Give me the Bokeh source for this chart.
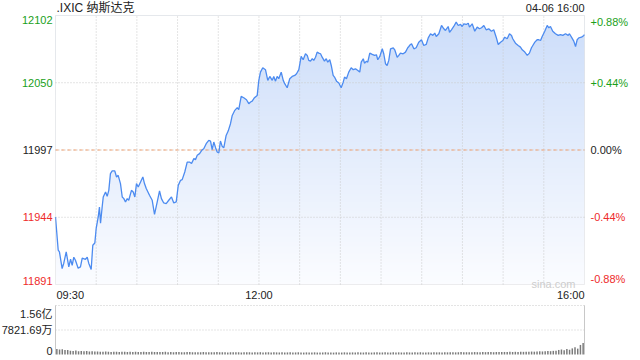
import numpy as np
from bokeh.plotting import figure
from bokeh.models import Range1d, Label, BoxAnnotation
from bokeh.embed import file_html
from bokeh.resources import INLINE

# ---------------- data ----------------
title_text = ".IXIC 纳斯达克"
stamp_text = "04-06 16:00"
prev_close = 11996.86

# minutes since 09:30 and index level
minutes = [
    0, 2.0, 2.9, 4.9, 6.1, 7.9, 9.8, 11.1, 12.3, 13.5,
    14.7, 16.7, 18.4, 19.7, 22.1, 23.4, 24.5, 26.3, 27.5, 29.0,
    30.0, 31.5, 32.4, 33.2, 34.4, 35.2, 36.9, 38.1, 39.3, 40.5,
    41.8, 43.7, 45.0, 46.2, 47.9, 49.2, 50.4, 51.6, 52.9, 54.0,
    56.0, 57.3, 58.5, 59.7, 61.0, 62.7, 64.4, 65.6, 66.9, 69.3,
    71.3, 73.0, 75.0, 76.7, 78.1, 79.8, 81.6, 83.5, 85.5, 87.2,
    89.0, 90.5, 92.2, 93.4, 95.3, 97.1, 98.8, 100.3, 102.0, 103.2,
    104.5, 106.2, 108.2, 109.3, 111.1, 113.0, 114.3, 115.5, 116.7, 118.0,
    119.2, 120.4, 121.6, 122.9, 124.1, 125.8, 127.3, 129.0, 130.3, 132.2,
    134.0, 135.1, 136.9, 138.8, 140.8, 142.5, 143.8, 145.0, 146.7, 148.7,
    149.9, 151.1, 152.8, 154.8, 156.5, 158.0, 159.8, 160.9, 162.2, 163.4,
    164.6, 166.4, 167.9, 169.0, 170.8, 172.7, 174.5, 176.4, 177.7, 179.4,
    181.1, 182.6, 184.3, 185.6, 186.7, 188.0, 189.3, 190.4, 191.7, 192.9,
    194.1, 195.4, 196.6, 198.3, 199.6, 200.7, 202.2, 203.3, 204.7, 205.7,
    207.2, 208.9, 210.6, 212.1, 213.1, 214.5, 216.2, 218.0, 219.5, 221.2,
    222.9, 224.3, 225.4, 226.9, 227.8, 229.3, 230.2, 231.7, 233.5, 235.2,
    236.6, 237.6, 239.1, 240.9, 242.0, 243.3, 244.5, 245.7, 247.0, 249.0,
    250.1, 251.9, 253.1, 254.3, 256.3, 258.0, 259.7, 260.5, 261.7, 262.5,
    264.2, 265.9, 267.8, 269.8, 271.5, 273.3, 274.8, 276.5, 278.2, 279.6,
    280.7, 282.6, 284.6, 286.3, 287.5, 289.5, 290.5, 291.9, 293.6, 295.4,
    296.9, 298.6, 299.8, 301.0, 302.8, 304.3, 305.2, 307.2, 309.1, 310.9,
    312.6, 314.1, 315.8, 317.5, 319.4, 321.4, 323.1, 324.9, 326.4, 328.1,
    329.8, 331.2, 333.0, 334.7, 336.2, 337.1, 339.1, 341.1, 342.8, 344.1,
    346.0, 347.8, 349.4, 350.9, 351.9, 353.4, 355.1, 356.3, 357.6, 358.8,
    360.7, 362.5, 363.7, 364.9, 366.6, 368.6, 370.6, 372.3, 374.0, 376.0,
    378.0, 378.9, 380.4, 382.1, 383.4, 384.6, 385.8, 387.8, 389.5, 390.0,
]
prices = [
    11944.3, 11918.2, 11916.9, 11903.8, 11908.0, 11916.9, 11905.1, 11911.1, 11906.4, 11912.7,
    11910.3, 11904.1, 11905.1, 11911.9, 11911.1, 11912.7, 11908.0, 11903.1, 11922.1, 11923.9,
    11935.4, 11944.3, 11952.1, 11939.4, 11952.1, 11960.0, 11963.9, 11960.5, 11965.2, 11978.3,
    11980.4, 11980.4, 11975.7, 11977.0, 11970.5, 11960.0, 11958.7, 11956.1, 11958.7, 11957.4,
    11965.2, 11963.9, 11960.0, 11970.5, 11967.8, 11971.7, 11975.7, 11970.5, 11966.6, 11961.3,
    11957.4, 11946.4, 11956.1, 11964.7, 11958.7, 11955.3, 11954.8, 11957.4, 11960.0, 11955.3,
    11956.1, 11969.1, 11973.1, 11973.6, 11979.6, 11987.4, 11987.4, 11986.2, 11990.1, 11989.3,
    11992.7, 11994.0, 11997.1, 11997.9, 12001.8, 12004.4, 12003.9, 11997.1, 12003.1, 11998.7,
    11995.3, 11994.5, 12003.9, 11999.7, 11998.7, 12008.3, 12011.7, 12017.5, 12024.0, 12028.0,
    12030.1, 12028.5, 12038.9, 12037.9, 12036.3, 12033.2, 12034.5, 12035.2, 12037.9, 12039.7,
    12051.5, 12058.0, 12061.4, 12059.9, 12051.5, 12054.6, 12051.5, 12054.6, 12050.9, 12054.6,
    12052.8, 12058.0, 12051.5, 12048.9, 12045.7, 12052.8, 12054.6, 12055.4, 12056.7, 12059.9,
    12070.3, 12067.7, 12072.4, 12071.1, 12067.2, 12066.6, 12068.5, 12067.2, 12069.7, 12073.7,
    12072.9, 12072.4, 12069.7, 12066.6, 12068.5, 12065.8, 12067.7, 12063.2, 12055.4, 12054.1,
    12050.9, 12049.4, 12045.7, 12050.1, 12054.1, 12052.8, 12058.0, 12061.4, 12059.9, 12060.6,
    12059.3, 12058.0, 12065.8, 12068.5, 12065.0, 12066.6, 12065.8, 12072.9, 12071.9, 12071.1,
    12071.6, 12067.7, 12070.3, 12076.3, 12072.4, 12064.6, 12063.2, 12067.2, 12076.3, 12077.1,
    12075.5, 12069.7, 12071.1, 12072.9, 12072.4, 12073.7, 12077.1, 12078.1, 12079.7, 12080.2,
    12076.3, 12077.1, 12081.5, 12083.4, 12078.9, 12079.7, 12084.9, 12088.1, 12086.8, 12088.6,
    12086.0, 12088.1, 12094.6, 12092.0, 12090.7, 12093.8, 12089.3, 12091.2, 12093.8, 12097.2,
    12094.6, 12095.4, 12093.8, 12095.9, 12095.4, 12096.4, 12093.3, 12095.9, 12090.1, 12093.3,
    12092.0, 12092.8, 12094.6, 12091.2, 12092.0, 12090.1, 12091.2, 12085.4, 12079.7, 12081.5,
    12082.8, 12085.4, 12084.2, 12088.1, 12086.8, 12084.2, 12080.7, 12078.9, 12077.6, 12075.5,
    12073.7, 12071.1, 12072.9, 12077.1, 12078.9, 12081.5, 12083.4, 12083.4, 12082.8, 12086.0,
    12090.1, 12094.6, 12092.8, 12093.8, 12090.1, 12088.1, 12086.8, 12087.5, 12086.8, 12088.1,
    12086.8, 12088.1, 12085.4, 12082.3, 12078.1, 12083.4, 12084.9, 12085.4, 12086.8, 12087.5,
]

# volume per 2-minute slot, millions of shares
vol_slot_minutes = 2
volume_m = [
    17.6, 16.0, 16.6, 14.7, 14.0,
    12.1, 11.2, 12.5, 10.5, 11.5, 10.2, 10.9, 9.6, 10.5, 9.9,
    9.5, 9.0, 8.6, 9.2, 8.8, 8.3, 9.0, 8.5, 8.1, 8.7, 8.4, 7.9, 8.6,
    8.2, 9.1, 8.0, 7.8, 8.5, 8.2, 7.7, 8.4, 8.0, 7.6, 8.3, 7.9, 8.8,
    7.4, 7.9, 7.2, 7.7, 8.1, 7.3, 7.0, 7.6, 7.8, 7.1,
    7.5, 6.9, 7.4, 7.7, 7.0, 7.3, 6.8, 7.2, 7.6, 6.9,
    7.1, 7.4, 6.7, 7.0, 7.5, 6.8, 7.2, 6.6, 7.0, 7.3,
    6.9, 6.5, 7.1, 6.8, 7.4, 6.6, 6.9, 7.2, 6.7, 7.0,
    6.8, 6.5, 7.0, 6.4, 6.7, 6.9, 6.3, 6.6, 7.1, 6.5,
    6.2, 6.8, 6.6, 6.4, 6.9, 6.3, 6.7, 6.5, 7.2, 6.4,
    6.6, 6.1, 6.8, 6.5, 6.3, 6.9, 6.6, 6.2, 6.7, 6.4,
    7.0, 6.5, 6.3, 6.8, 6.6, 6.2, 6.7, 6.9, 6.4, 6.5,
    7.1, 6.6, 6.3, 6.8, 6.5, 6.9, 6.4, 6.7, 7.0, 6.6,
    6.3, 6.8, 6.5, 7.2, 6.7, 6.4, 6.9, 6.6, 7.1, 6.8,
    7.0, 6.7, 7.3, 6.9, 7.1, 7.4, 6.8, 7.2, 7.6, 7.0,
    7.3, 7.5, 7.1, 7.8, 7.4, 7.2, 7.7, 7.5, 8.0, 7.6,
    7.3, 7.9, 8.2, 7.7, 8.1, 7.8, 8.4, 8.0, 8.6, 8.3,
    8.9, 8.5, 9.1, 8.8, 9.4,
    9.0, 9.6, 10.2, 9.7, 10.5, 11.0, 10.6, 11.6, 12.3,
    14.5, 16.0, 13.5, 17.5, 15.2, 19.5, 23.0, 18.7, 30.5, 36.5,
]

price_ticks = [11891.29, 11944.07, 11996.86, 12049.65, 12102.43]
price_tick_labels = ["11891", "11944", "11997", "12050", "12102"]
pct_tick_labels = ["-0.88%", "-0.44%", "0.00%", "+0.44%", "+0.88%"]
vol_ticks = [0, 78.2169, 156.4338]
vol_tick_labels = ["0", "7821.69万", "1.56亿"]
time_ticks = [0, 150, 390]
time_tick_labels = ["09:30", "12:00", "16:00"]
grid_minutes = [30, 60, 90, 120, 150, 180, 210, 240, 270, 300, 330, 360]

# ---------------- layout / style ----------------
W, H = 640, 360
PX_LEFT, PX_RIGHT = 55, 584
PX_TOP, PX_MAIN_BOTTOM = 15, 284
PX_VOL_TOP, PX_VOL_BOTTOM = 305, 354

FONT = "Liberation Sans, Arial, Noto Sans CJK SC, sans-serif"
GREEN = "#1a9f1a"
RED = "#ee2b2b"
DARK = "#222222"
GRID = "#c9c9c9"
BORDER = "#c8c8c8"
LINE = "#4c8bf0"

session_start, session_end = time_ticks[0], time_ticks[-1]
price_lo, price_hi = price_ticks[0], price_ticks[-1]
vol_hi = vol_ticks[-1]

min_per_px = (session_end - session_start) / (PX_RIGHT - PX_LEFT)
pt_per_px = (price_hi - price_lo) / (PX_MAIN_BOTTOM - PX_TOP)
vol_per_px = vol_hi / (PX_VOL_BOTTOM - PX_VOL_TOP)

# the plotting frame covers the whole canvas; ranges map the panels into place
x_range = Range1d(session_start - PX_LEFT * min_per_px,
                  session_end + (W - PX_RIGHT) * min_per_px)
y_range = Range1d(price_hi - (H - PX_TOP) * pt_per_px, price_hi + PX_TOP * pt_per_px)
vol_range = Range1d(-(H - PX_VOL_BOTTOM) * vol_per_px, PX_VOL_BOTTOM * vol_per_px)

p = figure(width=W, height=H, x_range=x_range, y_range=y_range,
           x_axis_type=None, y_axis_type=None,
           output_backend="svg", toolbar_location=None, title=None,
           min_border_left=0, min_border_right=0, min_border_top=0, min_border_bottom=0,
           margin=(0, 0, 0, 0),
           outline_line_color=None, background_fill_color="white",
           border_fill_color="white")
p.extra_y_ranges = {"vol": vol_range}

# gradient fill under the price line
n_rows = PX_MAIN_BOTTOM - PX_TOP
grad = np.zeros((n_rows, 1), dtype=np.uint32)
view = grad.view(dtype=np.uint8).reshape((n_rows, 1, 4))
bottom_rgb = np.array([251.0, 252.0, 255.0])
top_rgb = np.array([204.0, 221.0, 249.0])
for i in range(n_rows):
    f = i / (n_rows - 1)
    view[i, 0, :3] = np.round(bottom_rgb + (top_rgb - bottom_rgb) * f).astype(np.uint8)
    view[i, 0, 3] = 255
p.image_rgba(image=[grad], x=session_start, y=price_lo,
             dw=session_end - session_start, dh=price_hi - price_lo)
# white mask above the line
p.varea(x=minutes, y1=prices, y2=price_hi, fill_color="white", fill_alpha=1.0)

# grid
p.segment(x0=grid_minutes, y0=price_lo, x1=grid_minutes, y1=price_hi,
          line_color=GRID, line_dash="1 2", line_width=1)
p.segment(x0=session_start, y0=price_ticks[1:-1], x1=session_end, y1=price_ticks[1:-1],
          line_color=GRID, line_dash="1 2", line_width=1)
# previous close
p.segment(x0=session_start, y0=prev_close, x1=session_end, y1=prev_close,
          line_color="#f0a070", line_dash="3 3", line_width=1)
# price line
p.line(minutes, prices, line_color=LINE, line_width=1.3)

# border of main panel
p.add_layout(BoxAnnotation(left=session_start, right=session_end, bottom=price_lo, top=price_hi,
                           fill_alpha=0, line_color=BORDER, line_width=1))

# volume panel
p.segment(x0=session_start, y0=vol_ticks[1:], x1=session_end, y1=vol_ticks[1:],
          line_color=GRID, line_dash="1 2", line_width=1, y_range_name="vol")
p.segment(x0=[session_start, session_end], y0=0, x1=[session_start, session_end], y1=vol_hi,
          line_color=BORDER, line_width=1, y_range_name="vol")
vol_x = [vol_slot_minutes * i + vol_slot_minutes / 2 for i in range(len(volume_m))]
p.vbar(x=vol_x, top=volume_m, bottom=0, width=1.1, y_range_name="vol",
       fill_color="#7a7a7a", line_color=None)


def add_label(text, x, y, align, baseline, color, dx=0, dy=0, size="11px", rng="default"):
    p.add_layout(Label(x=x, y=y, text=text, text_align=align, text_baseline=baseline,
                       x_offset=dx, y_offset=dy, text_color=color, text_font=FONT,
                       text_font_size=size, y_range_name=rng))


tick_colors = [RED, RED, DARK, GREEN, GREEN]
tick_baselines = ["bottom", "middle", "middle", "middle", "top"]
for val, lab, pct, col, base in zip(price_ticks, price_tick_labels, pct_tick_labels,
                                    tick_colors, tick_baselines):
    add_label(lab, session_start, val, "right", base, col, dx=-3)
    add_label(pct, session_end, val, "left", base, col, dx=6)

time_aligns = ["left", "center", "right"]
for t, lab, al in zip(time_ticks, time_tick_labels, time_aligns):
    add_label(lab, t, price_lo, al, "top", DARK, dx=1 if al == "left" else 0, dy=-4)

vol_baselines = ["bottom", "middle", "top"]
vol_dy = [0, 0, -2]
for v, lab, base, dy in zip(vol_ticks, vol_tick_labels, vol_baselines, vol_dy):
    add_label(lab, session_start, v, "right", base, DARK, dx=-3, dy=dy, rng="vol")

add_label(title_text, session_start, price_hi, "left", "bottom", "#222222", dx=1, dy=1, size="12px")
add_label(stamp_text, session_end, price_hi, "right", "bottom", DARK, dx=0, dy=2)
add_label("sina.com", session_end, price_lo, "right", "alphabetic", "#cdcdcd", dx=-9, dy=1)

open("out.html", "w").write(file_html(p, INLINE))
